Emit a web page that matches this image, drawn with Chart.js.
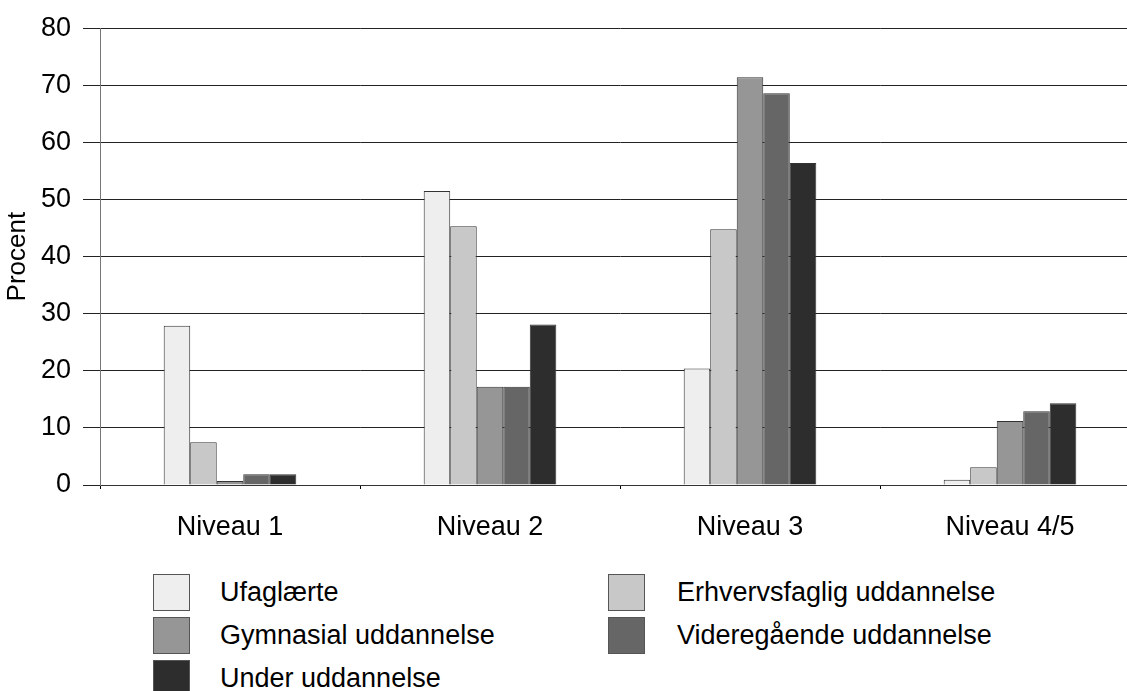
<!DOCTYPE html>
<html>
<head>
<meta charset="utf-8">
<script src="https://cdn.jsdelivr.net/npm/chart.js@4"></script>
<style>
  html, body { margin: 0; padding: 0; background: #fff; overflow: hidden; }
  body { width: 1127px; height: 691px; position: relative; font-family: "Liberation Sans", Arial, sans-serif; }
  #wrap { position: absolute; left: 0; top: 0; width: 1150px; height: 545px; }
  .legend-item { position: absolute; height: 37px; }
  .legend-box { position: absolute; left: 0; top: 0; width: 37px; height: 37px; border: 1px solid #555; box-sizing: border-box; }
  .legend-text { position: absolute; top: 0; line-height: 37px; font-size: 27px; color: #000; white-space: nowrap; }
</style>
</head>
<body>
<div id="wrap"><canvas id="chart" width="1150" height="545"></canvas></div>
<div id="legend"></div>
<script>
const categories = ['Niveau 1', 'Niveau 2', 'Niveau 3', 'Niveau 4/5'];

const seriesNames = [
  'Ufaglærte',
  'Erhvervsfaglig uddannelse',
  'Gymnasial uddannelse',
  'Videregående uddannelse',
  'Under uddannelse'
];

const ufaglaerte = [27.9, 51.5, 20.4, 0.9];
const erhvervsfaglig = [7.5, 45.3, 44.8, 3.1];
const gymnasial = [0.7, 17.2, 71.4, 11.2];
const videregaaende = [1.9, 17.2, 68.6, 12.9];
const underUddannelse = [1.9, 28.1, 56.4, 14.3];

const seriesValues = [ufaglaerte, erhvervsfaglig, gymnasial, videregaaende, underUddannelse];
const seriesColors = ['#eeeeee', '#c8c8c8', '#969696', '#666666', '#2d2d2d'];

const yTicks = { min: 0, max: 80, step: 10 };

const FONT = '"Liberation Sans", Arial, sans-serif';
const FONT_SIZE = 27;

const datasets = seriesNames.map((name, i) => ({
  label: name,
  data: seriesValues[i],
  backgroundColor: seriesColors[i],
  borderColor: '#333333',
  borderWidth: 1,
  categoryPercentage: 0.51,
  barPercentage: 1.0
}));

new Chart(document.getElementById('chart'), {
  type: 'bar',
  data: { labels: categories, datasets },
  options: {
    responsive: false,
    animation: false,
    layout: { padding: { left: 0, right: 10, top: 28, bottom: 0 } },
    plugins: {
      legend: { display: false },
      tooltip: { enabled: false }
    },
    scales: {
      x: {
        afterFit: (axis) => { axis.height = 60; },
        grid: { drawOnChartArea: false, tickLength: 4, color: '#000' },
        border: { color: '#333', width: 1 },
        ticks: { color: '#000', padding: 22, font: { family: FONT, size: FONT_SIZE } }
      },
      y: {
        min: yTicks.min,
        max: yTicks.max,
        afterFit: (axis) => { axis.width = 100; },
        ticks: { stepSize: yTicks.step, color: '#000', padding: 12, font: { family: FONT, size: FONT_SIZE } },
        grid: { color: '#222', lineWidth: 1, tickLength: 17 },
        border: { color: '#777', width: 1 },
        title: {
          display: true,
          text: 'Procent',
          color: '#000',
          padding: { top: 2, bottom: 2 },
          font: { family: FONT, size: 26 }
        }
      }
    }
  }
});

// legend in two columns below the chart
const legend = document.getElementById('legend');
const colX = [{ box: 153, text: 220 }, { box: 608, text: 677 }];
const rowY = [574, 617, 660];
seriesNames.forEach((name, i) => {
  const col = colX[i % 2];
  const top = rowY[Math.floor(i / 2)];
  const item = document.createElement('div');
  item.className = 'legend-item';
  item.style.left = col.box + 'px';
  item.style.top = top + 'px';
  item.innerHTML = `<div class="legend-box" style="background:${seriesColors[i]}"></div>` +
    `<div class="legend-text" style="left:${col.text - col.box}px">${name}</div>`;
  legend.appendChild(item);
});
</script>
</body>
</html>
